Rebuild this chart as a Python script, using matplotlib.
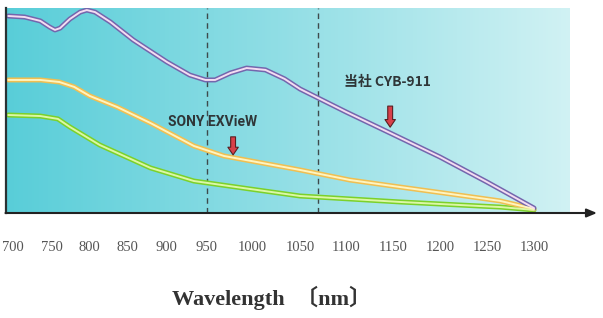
import numpy as np
import matplotlib.pyplot as plt
from matplotlib.colors import LinearSegmentedColormap

# tick labels as printed (wavelength, nm) and where they sit along the axis (px)
tick_waves = [700, 750, 800, 850, 900, 950, 1000, 1050, 1100, 1150, 1200, 1250, 1300]
tick_pos = [13, 52, 89, 127, 166, 207, 252, 300, 346, 393, 440, 487, 534]

# curves (wavelength nm, relative sensitivity %)
cyb_wl = [694, 715, 735, 747, 754, 761, 774, 788, 797, 808, 828, 858, 901, 929, 948,
          959, 976, 994, 1014, 1034, 1050, 1100, 1147, 1200, 1250, 1300]
cyb_val = [96.1, 95.6, 93.7, 90.7, 89.3, 90.2, 94.6, 98.0, 99.0, 98.0, 93.2, 84.4, 73.7,
           67.3, 64.9, 64.9, 68.3, 70.7, 69.8, 65.4, 60.5, 49.3, 39.0, 27.3, 15.1, 2.4]

sony_wl = [694, 735, 760, 780, 801, 837, 880, 934, 969, 1050, 1104, 1157, 1211, 1264, 1300]
sony_val = [64.9, 64.9, 63.9, 61.5, 57.1, 51.7, 43.9, 32.7, 27.8, 21.0, 16.1, 12.7, 9.3, 5.9, 2.0]

other_wl = [694, 735, 758, 774, 814, 880, 934, 998, 1050, 1157, 1264, 1300]
other_val = [47.8, 47.3, 45.9, 42.0, 33.2, 22.0, 15.6, 11.7, 8.3, 5.4, 2.9, 1.5]

marker_lines = [950, 1070]

# scale that follows the uneven spacing of the printed labels
anchor_w = [600] + tick_waves + [1400]
anchor_p = [-65] + tick_pos + [628]


def fwd(x):
    return np.interp(x, anchor_w, anchor_p)


def inv(p):
    return np.interp(p, anchor_p, anchor_w)


W, H = 603, 318
fig = plt.figure(figsize=(W / 100, H / 100), dpi=100)
x0, x1, ytop, ybot = 5.5, 597, 8, 213
ax = fig.add_axes([x0 / W, (H - ybot) / H, (x1 - x0) / W, (ybot - ytop) / H])
ax.set_xscale("function", functions=(fwd, inv))
ax.set_xlim(inv(x0), inv(x1))
ax.set_ylim(0, 100)
ax.patch.set_alpha(0)

# background gradient
cmap = LinearSegmentedColormap.from_list("bg", ["#58cdd8", "#92dee5", "#d0f1f3"])
grad = np.linspace(0, 1, 255)[None, :]
bg_x = np.linspace(x0, 570, 256)
ax.pcolormesh(inv(bg_x), [0, 100], grad, cmap=cmap,
              shading="flat", zorder=0, rasterized=True)

# dashed marker lines
for wl in marker_lines:
    ax.axvline(wl, color="#3d4a4c", lw=1.0, ls=(0, (4, 3)), zorder=1)

# double-stroke curves
styles = [(other_wl, other_val, "#7cd12a", "#dcf7a6"),
          (sony_wl, sony_val, "#f0bf52", "#fff4bf"),
          (cyb_wl, cyb_val, "#7466ad", "#f4dcf2")]
for wl, val, outer, inner in styles:
    ax.plot(wl, val, color=outer, lw=3.6, solid_capstyle="round",
            solid_joinstyle="round", zorder=2)
    ax.plot(wl, val, color=inner, lw=1.4, solid_capstyle="round",
            solid_joinstyle="round", zorder=3)

# labels and arrows
arrow_kw = dict(arrowstyle="simple,head_width=0.75,head_length=0.55,tail_width=0.35",
                fc="#d8404a", ec="#5a1f22", lw=0.8)
ax.annotate("", xy=(979, 27.0), xytext=(979, 38.5), arrowprops=arrow_kw, zorder=4)
ax.annotate("", xy=(1147, 40.5), xytext=(1147, 53.5), arrowprops=arrow_kw, zorder=4)
ax.text(inv(213), 44.5, "SONY EXVieW", ha="center", va="center", fontsize=10,
        fontweight="bold", color="#2f3638", family=["Roboto", "DejaVu Sans"], zorder=5)
ax.text(inv(387), 64.0, "当社 CYB-911", ha="center", va="center", fontsize=10,
        fontweight="bold", color="#2f3638", family=["Noto Sans CJK JP", "DejaVu Sans"], zorder=5)

# axes
for s in ["top", "right", "bottom"]:
    ax.spines[s].set_visible(False)
ax.spines["left"].set_color("#2a3133")
ax.spines["left"].set_linewidth(1.6)
ax.annotate("", xy=(1, 0), xytext=(0, 0), xycoords="axes fraction",
            arrowprops=dict(arrowstyle="-|>,head_width=0.25,head_length=0.6",
                            color="#222222", lw=1.5, shrinkA=0, shrinkB=0))
ax.set_yticks([])
ax.set_xticks(tick_waves)
ax.set_xticklabels([str(t) for t in tick_waves], family="Liberation Serif",
                   fontsize=10.5, color="#555555")
ax.tick_params(axis="x", length=0, pad=20)
ax.minorticks_off()

fig.text(272 / W, 1 - 298 / H, "Wavelength  〔nm〕", ha="center", va="center",
         fontsize=16, fontweight="bold", color="#333333",
         family=["Liberation Serif", "Noto Sans CJK JP"])

fig.savefig("out.png", dpi=100)
